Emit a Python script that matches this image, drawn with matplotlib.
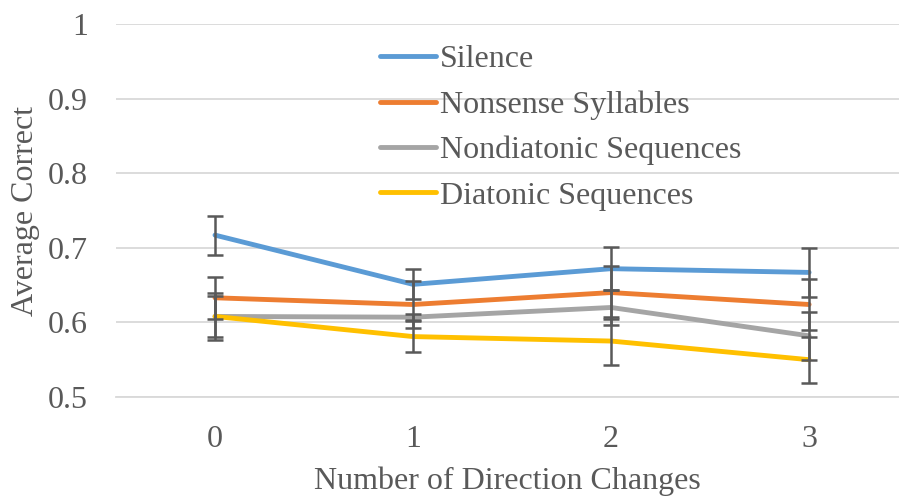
import matplotlib
matplotlib.use("Agg")
import matplotlib.pyplot as plt
from matplotlib.lines import Line2D

categories = ["0", "1", "2", "3"]
series_names = ["Silence", "Nonsense Syllables", "Nondiatonic Sequences", "Diatonic Sequences"]
silence = [0.717, 0.651, 0.672, 0.667]
nonsense = [0.633, 0.624, 0.640, 0.624]
nondiatonic = [0.608, 0.607, 0.620, 0.582]
diatonic = [0.608, 0.581, 0.575, 0.550]
silence_err = [0.026, 0.020, 0.029, 0.033]
nonsense_err = [0.028, 0.032, 0.035, 0.034]
nondiatonic_err = [0.032, 0.004, 0.024, 0.032]
diatonic_err = [0.028, 0.021, 0.032, 0.031]
yticks = [0.5, 0.6, 0.7, 0.8, 0.9, 1.0]
ytick_labels = ["0.5", "0.6", "0.7", "0.8", "0.9", "1"]
colors = ["#5B9BD5", "#ED7D31", "#A5A5A5", "#FFC000"]

plt.rcParams['font.family'] = ['Liberation Serif', 'DejaVu Serif']
txt = "#595959"

fig = plt.figure(figsize=(8.99, 4.97), dpi=100)
ax = fig.add_axes([116/899, 1-397/497, (899-116)/899, (397-24)/497])

x = list(range(len(categories)))
data = [silence, nonsense, nondiatonic, diatonic]
errs = [silence_err, nonsense_err, nondiatonic_err, diatonic_err]
for i, (vals, c) in enumerate(zip(data, colors)):
    ax.plot(x, vals, color=c, lw=3.5, solid_capstyle='round', zorder=3 + i * 0.1)
for vals, e in zip(data, errs):
    ax.errorbar(x, vals, yerr=e, fmt='none', ecolor="#595959", elinewidth=1.8,
                capsize=6, capthick=1.8, zorder=5)

ax.set_xlim(-0.5, 3.454)
ax.set_ylim(0.5, 1.0)
ax.set_yticks(yticks)
ax.set_yticklabels(ytick_labels)
ax.set_xticks(x)
ax.set_xticklabels(categories)
ax.grid(axis='y', color="#D9D9D9", lw=1.3, zorder=0)
for s in ['top', 'right', 'left']:
    ax.spines[s].set_visible(False)
ax.spines['bottom'].set_color("#D9D9D9")
ax.spines['bottom'].set_linewidth(1.3)
ax.tick_params(axis='both', length=0, labelsize=23, colors=txt)
ax.tick_params(axis='y', pad=20)
ax.tick_params(axis='x', pad=20)
ax.set_ylabel("Average Correct", fontsize=23, color=txt, labelpad=6)
ax.set_xlabel("Number of Direction Changes", fontsize=23, color=txt, labelpad=9)

handles = [Line2D([0], [0], color=c, lw=3.5, solid_capstyle='round') for c in colors]
leg = ax.legend(handles, series_names, loc='upper left',
                bbox_to_anchor=(380/899, 1 - 45/497), bbox_transform=fig.transFigure,
                frameon=False, fontsize=23, handlelength=1.75, handletextpad=0.12,
                labelspacing=0.5, borderaxespad=0, borderpad=0)
for t in leg.get_texts():
    t.set_color(txt)

fig.savefig("out.png", dpi=100)
